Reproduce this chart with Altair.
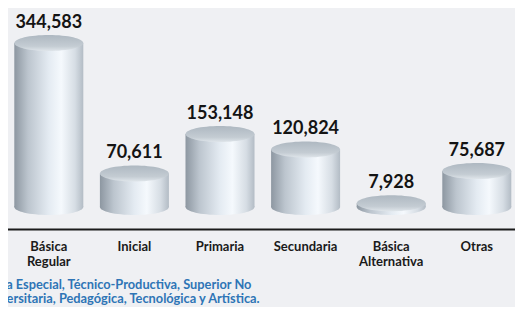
import altair as alt
import pandas as pd

categories = ["Básica Regular", "Inicial", "Primaria", "Secundaria", "Básica Alternativa", "Otras"]
values = [344583, 70611, 153148, 120824, 7928, 75687]
value_labels = ["344,583", "70,611", "153,148", "120,824", "7,928", "75,687"]
footnote = ["ca Especial, Técnico-Productiva, Superior No",
            "versitaria, Pedagógica, Tecnológica y Artística."]

df = pd.DataFrame({"cat": categories, "value": values, "label": value_labels})

W, H = 507, 221
BAR_W = 69
ELLIPSE = "M-1,0A1,0.232 0 1,0 1,0A1,0.232 0 1,0 -1,0Z"

body_grad = {
    "gradient": "linear", "x1": 0, "x2": 1, "y1": 0, "y2": 0,
    "stops": [
        {"offset": 0.0, "color": "#8d97a1"},
        {"offset": 0.2, "color": "#bcc5ce"},
        {"offset": 0.5, "color": "#e4ebf2"},
        {"offset": 0.68, "color": "#f5f9fd"},
        {"offset": 0.88, "color": "#d6dde4"},
        {"offset": 1.0, "color": "#b3bcc5"},
    ],
}
top_grad = {
    "gradient": "linear", "x1": 0, "x2": 0, "y1": 0, "y2": 1,
    "stops": [
        {"offset": 0.0, "color": "#aeb8c1"},
        {"offset": 0.7, "color": "#c4ccd3"},
        {"offset": 1.0, "color": "#dfe5ea"},
    ],
}

xenc = alt.X(
    "cat:N", sort=categories, title=None,
    scale=alt.Scale(range=[-2, 511.6], paddingInner=0, paddingOuter=0),
    axis=alt.Axis(labelExpr="split(datum.label, ' ')", labelAngle=0, ticks=False,
                  domainColor="#1b1b1b", domainWidth=2, labelFont="Lato",
                  labelFontSize=13, labelFontWeight="bold", labelColor="#1a1a1a",
                  labelPadding=11, labelLineHeight=15, grid=False),
)
yscale = alt.Scale(domain=[0, max(values)], range=[199, 35])

base = alt.Chart(df)

bottom = base.mark_point(shape=ELLIPSE, size=BAR_W ** 2, filled=True, fill=body_grad,
                         opacity=1, strokeWidth=0).encode(
    x=xenc, y=alt.datum(0, scale=yscale, axis=None))
body = base.mark_bar(size=BAR_W, fill=body_grad).encode(
    x=xenc, y=alt.Y("value:Q", scale=yscale, axis=None), y2=alt.datum(0))
top = base.mark_point(shape=ELLIPSE, size=BAR_W ** 2, filled=True, fill=top_grad,
                      opacity=1, strokeWidth=0).encode(
    x=xenc, y=alt.Y("value:Q", scale=yscale, axis=None))
labels = base.mark_text(dy=-15, baseline="alphabetic", font="Lato", fontSize=18,
                        fontWeight="bold", color="#141414").encode(
    x=xenc, y=alt.Y("value:Q", scale=yscale, axis=None), text="label:N")

note_layers = []
for i, line in enumerate(footnote):
    note_layers.append(
        alt.Chart(pd.DataFrame({"t": [line]})).mark_text(
            align="left", baseline="alphabetic", font="Lato", fontSize=12.8,
            fontWeight="bold", color="#2e75b6").encode(
            x=alt.value(-8), y=alt.value(281 + 13.5 * i), text="t:N"))

chart = alt.layer(bottom, body, top, labels, *note_layers).properties(
    width=W, height=H,
    background="#eff0f3",
    padding={"left": 0, "top": 0, "right": 0, "bottom": 78},
    autosize=alt.AutoSizeParams(type="none"),
).configure_view(stroke=None)

chart.save("out.html", embed_options={"renderer": "svg", "actions": False})
